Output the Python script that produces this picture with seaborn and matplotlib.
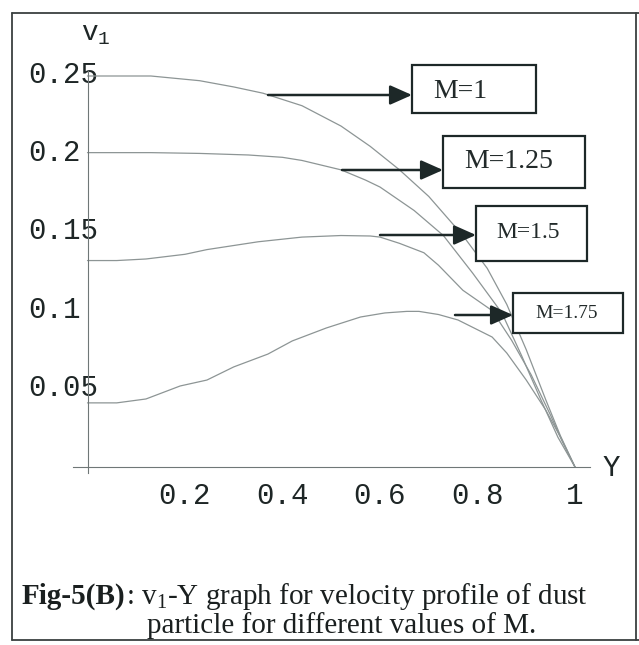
import numpy as np
import pandas as pd
import matplotlib
matplotlib.use("Agg")
import matplotlib.pyplot as plt
import matplotlib.transforms as mtransforms
from matplotlib.ticker import MultipleLocator
from matplotlib.patches import Rectangle, FancyArrowPatch
from matplotlib.lines import Line2D
import seaborn as sns

sns.set_theme(style="white")
plt.rcParams["font.family"] = ["Liberation Mono", "DejaVu Sans"]

# ---------------- data ----------------
Y_M1 = [0.00, 0.13, 0.23, 0.30, 0.36, 0.44, 0.52, 0.58, 0.64, 0.70, 0.77, 0.82, 0.86, 0.90, 0.94, 0.97, 1.00]
V_M1 = [0.250, 0.250, 0.247, 0.243, 0.239, 0.231, 0.218, 0.205, 0.190, 0.173, 0.148, 0.127, 0.104, 0.075, 0.043, 0.020, 0.000]

Y_M125 = [0.00, 0.13, 0.23, 0.33, 0.40, 0.44, 0.52, 0.57, 0.60, 0.67, 0.73, 0.79, 0.85, 0.89, 0.93, 0.965, 1.00]
V_M125 = [0.201, 0.201, 0.2005, 0.1995, 0.198, 0.196, 0.190, 0.1835, 0.179, 0.164, 0.148, 0.124, 0.0985, 0.0715, 0.043, 0.019, 0.000]

Y_M15 = [0.00, 0.06, 0.12, 0.20, 0.245, 0.35, 0.44, 0.52, 0.58, 0.60, 0.64, 0.69, 0.72, 0.77, 0.83, 0.87, 0.91, 0.95, 0.973, 1.00]
V_M15 = [0.132, 0.132, 0.133, 0.136, 0.139, 0.144, 0.147, 0.148, 0.1477, 0.147, 0.143, 0.137, 0.129, 0.113, 0.100, 0.081, 0.059, 0.033, 0.017, 0.000]

Y_M175 = [0.00, 0.06, 0.12, 0.19, 0.245, 0.30, 0.37, 0.42, 0.49, 0.56, 0.61, 0.655, 0.68, 0.72, 0.76, 0.83, 0.86, 0.90, 0.94, 0.97, 1.00]
V_M175 = [0.041, 0.041, 0.0435, 0.0518, 0.0556, 0.064, 0.0722, 0.0806, 0.0889, 0.0959, 0.0985, 0.0995, 0.0995, 0.0975, 0.094, 0.0831, 0.0729, 0.0556, 0.0364, 0.0192, 0.000]

M_LABELS = ["M=1", "M=1.25", "M=1.5", "M=1.75"]
X_TICKS = [0.2, 0.4, 0.6, 0.8, 1.0]
X_TICK_LABELS = ["0.2", "0.4", "0.6", "0.8", "1"]
Y_TICKS = [0.05, 0.10, 0.15, 0.20, 0.25]
Y_TICK_LABELS = ["0.05", "0.1", "0.15", "0.2", "0.25"]
CAPTION_BOLD = "Fig-5(B)"
CAPTION_1 = r": $\mathregular{v_1}$-Y graph for velocity profile of dust"
CAPTION_2 = "particle for different values of M."

df = pd.concat([
    pd.DataFrame({"Y": ys, "v1": vs, "M": lab})
    for lab, ys, vs in zip(M_LABELS,
                           [Y_M1, Y_M125, Y_M15, Y_M175],
                           [V_M1, V_M125, V_M15, V_M175])
], ignore_index=True)

# ---------------- figure ----------------
W, H = 639, 645
fig = plt.figure(figsize=(W / 100, H / 100), dpi=100)
fig.patch.set_facecolor("white")

def fx(x):
    return x / W

def fy(y):
    return 1 - y / H

# axes: data x 0 -> px 87.5, 1 -> px 575 ; y 0 -> px 467, 0.25 -> px 76
xlim = (-0.03, 1.03)
ylim = (-0.004, 0.253)
sx, sy = 487.5, 1564.0
left_px = 87.5 + xlim[0] * sx
right_px = 87.5 + xlim[1] * sx
bot_px = 467 - ylim[0] * sy
top_px = 467 - ylim[1] * sy
ax = fig.add_axes([fx(left_px), fy(bot_px), (right_px - left_px) / W, (bot_px - top_px) / H])
ax.set_facecolor("none")

curve_col = "#8d9595"
sns.lineplot(data=df, x="Y", y="v1", hue="M", palette={m: curve_col for m in M_LABELS},
             estimator=None, sort=False, linewidth=0.9, legend=False, ax=ax)

ax.set_xlim(*xlim)
ax.set_ylim(*ylim)
for s in ["top", "right"]:
    ax.spines[s].set_visible(False)
axis_col = "#6f7777"
for s in ["left", "bottom"]:
    ax.spines[s].set_position(("data", 0))
    ax.spines[s].set_color(axis_col)
    ax.spines[s].set_linewidth(0.8)

ax.set_xticks(X_TICKS, X_TICK_LABELS)
ax.set_yticks(Y_TICKS, Y_TICK_LABELS)
ax.xaxis.set_minor_locator(MultipleLocator(0.05))
ax.yaxis.set_minor_locator(MultipleLocator(0.01))
ax.tick_params(which="major", direction="in", length=5, width=0.8, color=axis_col)
ax.tick_params(which="minor", direction="in", length=3, width=0.7, color=axis_col)
ax.tick_params(axis="x", which="major", labelsize=21, pad=11, labelcolor="#1e2626")
ax.tick_params(axis="y", which="major", labelsize=21, pad=43, labelcolor="#1e2626")
for lab in ax.get_yticklabels():
    lab.set_horizontalalignment("left")
    lab.set_transform(lab.get_transform() + mtransforms.ScaledTranslation(0, 4 / 100, fig.dpi_scale_trans))
ax.set_xlabel("")
ax.set_ylabel("")

# axis names
fig.text(fx(81), fy(34), r"$\mathregular{v_1}$", fontsize=20, family="Liberation Mono",
         ha="left", va="center", color="#1e2626")
fig.text(fx(611), fy(468), "Y", fontsize=21, family="Liberation Mono",
         ha="center", va="center", color="#1e2626")

# ---------------- labelled boxes with arrows ----------------
box_col = "#1d2828"
boxes = [
    # label, tail x, head x, arrow y, box (x0, y0, x1, y1), text centre, fontsize
    ("M=1", 268, 412, 95, (412, 65, 536, 113), (460, 91), 20),
    ("M=1.25", 342, 443, 170, (443, 136, 585, 188), (509, 162), 20),
    ("M=1.5", 380, 476, 235, (476, 206, 587, 261), (528, 232), 17),
    ("M=1.75", 455, 513, 315, (513, 293, 623, 333), (567, 314), 14),
]
for lab, tx, hx, ay, (x0, y0, x1, y1), (cx, cy), fs in boxes:
    fig.add_artist(Rectangle((fx(x0), fy(y1)), (x1 - x0) / W, (y1 - y0) / H,
                             transform=fig.transFigure, fill=True, facecolor="white",
                             edgecolor=box_col, linewidth=1.6))
    fig.add_artist(FancyArrowPatch((fx(tx), fy(ay)), (fx(hx), fy(ay)), transform=fig.transFigure,
                                   arrowstyle="-|>,head_length=0.9,head_width=0.4",
                                   mutation_scale=15, linewidth=1.8, color=box_col,
                                   shrinkA=0, shrinkB=0))
    fig.text(fx(cx), fy(cy), lab, fontsize=fs, family="Liberation Serif",
             ha="center", va="center", color="#222a2a")

# ---------------- frame ----------------
frame_col = "#3a4040"
for (xa, ya, xb, yb) in [(12, 13, 639, 13), (12, 13, 12, 640), (12, 640, 639, 640), (636, 13, 636, 640)]:
    fig.add_artist(Line2D([fx(xa), fx(xb)], [fy(ya), fy(yb)], transform=fig.transFigure,
                          color=frame_col, linewidth=1.3))

# ---------------- caption ----------------
cap_fs = 21
t_bold = fig.text(fx(22), fy(604), CAPTION_BOLD, fontsize=cap_fs, family="Liberation Serif",
                  weight="bold", ha="left", va="baseline", color="#1a1f1f")
fig.canvas.draw()
bb = t_bold.get_window_extent(renderer=fig.canvas.get_renderer())
fig.text(bb.x1 / W, fy(604), CAPTION_1, fontsize=cap_fs, family="Liberation Serif",
         ha="left", va="baseline", color="#1a1f1f")
fig.text(fx(147), fy(633), CAPTION_2, fontsize=cap_fs, family="Liberation Serif",
         ha="left", va="baseline", color="#1a1f1f")

fig.savefig("out.png", dpi=100, facecolor="white")
